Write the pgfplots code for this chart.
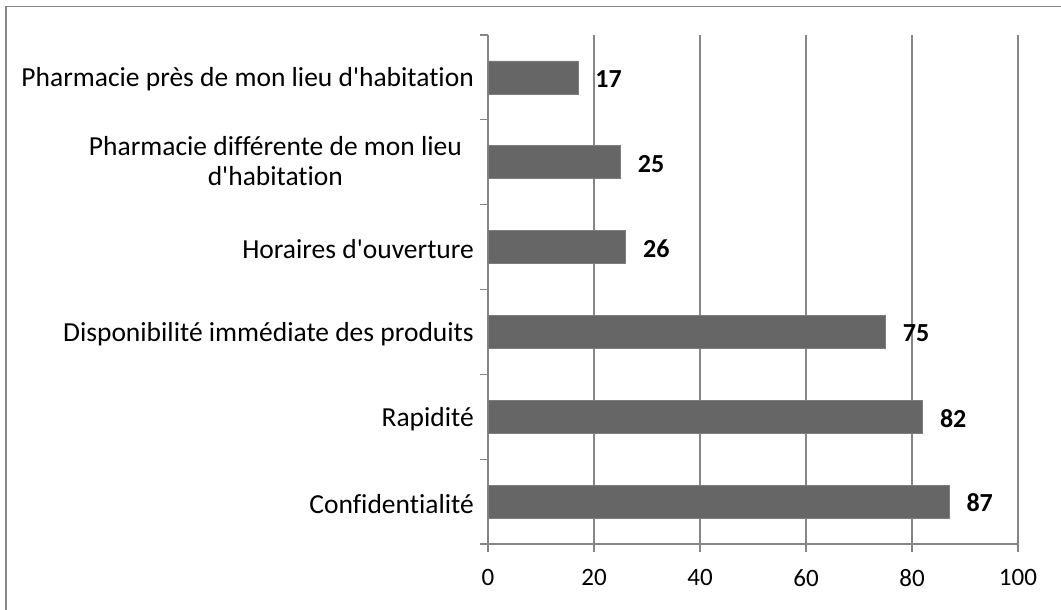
\documentclass[border=0pt]{standalone}
\usepackage{pgfplots}
\pgfplotsset{compat=1.18}
\usepackage{fontspec}
\setmainfont{Carlito}[Ligatures={TeXOff,CommonOff}]
\definecolor{barfill}{RGB}{102,102,102}
\definecolor{baredge}{RGB}{125,125,125}
\definecolor{gridc}{RGB}{134,134,134}
\begin{document}
\begin{tikzpicture}[x=1pt,y=1pt]
\useasboundingbox (0,0) rectangle (1061,610);
\draw[gridc,line width=1.5pt] (6,0) -- (6,603.5) -- (1061,603.5);
\begin{axis}[
  at={(488pt,66pt)}, anchor=south west,
  scale only axis, width=530pt, height=509pt,
  font=\fontsize{25}{30}\selectfont,
  xbar, bar width=33pt,
  xmin=0, xmax=100, ymin=0.5, ymax=6.5,
  axis lines*=left,
  axis line style={gridc,line width=1.3pt},
  xtick={0,20,...,100},
  xmajorgrids, grid style={gridc,line width=1.3pt},
  ytick={0.5,1.5,...,6.5}, yticklabels={},
  tick align=outside, major tick length=8pt,
  tick style={gridc,line width=1.3pt},
  /pgf/number format/assume math mode=true,
  xticklabel style={yshift=-14pt, font=\fontsize{25}{30}\selectfont},
  extra y ticks={1,2,3,4,5,6},
  extra y tick labels={Confidentialité,Rapidité,Disponibilité immédiate des produits,Horaires d'ouverture,{\begin{tabular}{@{}c@{\hspace{12pt}}}Pharmacie différente de mon lieu\\d'habitation\end{tabular}},Pharmacie près de mon lieu d'habitation},
  extra y tick style={major tick length=0pt, yticklabel style={inner sep=0pt, xshift=-14pt, yshift=-2pt, font=\fontsize{27.5}{30.5}\selectfont}},
  nodes near coords={\bfseries\pgfmathprintnumber{\pgfplotspointmeta}},
  every node near coord/.append style={anchor=west, inner sep=0pt, xshift=17pt, yshift=-1.5pt, font=\fontsize{26}{31}\selectfont\bfseries},
]
\addplot[fill=barfill, draw=baredge, line width=0.8pt] coordinates {
  (87,1) (82,2) (75,3) (26,4) (25,5) (17,6)
};
\end{axis}
\end{tikzpicture}
\end{document}
